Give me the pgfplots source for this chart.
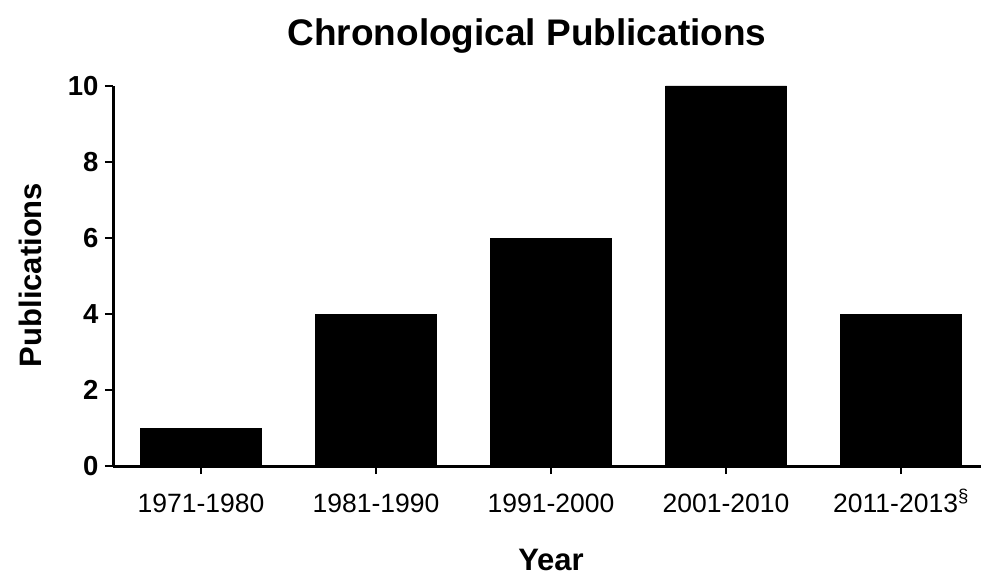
\documentclass[border=0pt]{standalone}
\usepackage{pgfplots}
\pgfplotsset{compat=1.18}
\usepackage{fontspec}
\setmainfont{Liberation Sans}
\begin{document}
\begin{tikzpicture}[x=1pt,y=1pt]
\begin{axis}[
  at={(0,0)}, anchor=south west,
  scale only axis, width=868pt, height=380pt,
  xmin=-0.503, xmax=4.457, ymin=0, ymax=10,
  axis x line*=bottom, axis y line*=left,
  axis line style={line width=3pt, black},
  tick style={line width=2.5pt, black},
  major tick length=8pt, tick align=outside,
  ytick={0,2,4,6,8,10},
  xtick={0,1,2,3,4},
  xticklabels={1971-1980,1981-1990,1991-2000,2001-2010,2011-2013\textsuperscript{\S}},
  /pgf/number format/assume math mode=true,
  yticklabel style={font=\fontsize{27.5}{27.5}\selectfont\bfseries, xshift=-3pt},
  xticklabel style={font=\fontsize{26.5}{26.5}\selectfont, anchor=base, yshift=-38pt},
  ybar, bar width=121pt,
  axis on top,
]
\addplot[fill=black, draw=black] coordinates {(0,1) (1,4) (2,6) (3,10) (4,4)};
\end{axis}
\node[font=\fontsize{37}{37}\selectfont\bfseries] at (414,430) {Chronological Publications};
\node[font=\fontsize{31}{31}\selectfont\bfseries, rotate=90] at (-83,191) {Publications};
\node[font=\fontsize{31}{31}\selectfont\bfseries] at (438,-94) {Year};
\pgfresetboundingbox
\path (-113,-110) rectangle (868,466);
\end{tikzpicture}
\end{document}
